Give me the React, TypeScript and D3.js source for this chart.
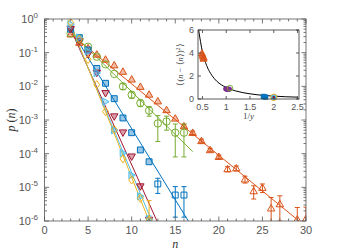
import React from "react";
import * as d3 from "d3";

// MATLAB-like palette
const orange = "#D95319";
const green = "#77AC30";
const blue = "#0072BD";
const darkRed = "#A2142F";
const cyan = "#4DBEEE";
const yellow = "#EDB120";
const purple = "#7E2F8E";

// main panel: p(n) on log scale
const orangeN = [3, 4, 5, 6, 7, 8, 9, 10, 11, 12, 13, 14, 15, 16, 17, 18, 19, 20, 21, 22, 23, 24, 25, 26, 27, 29, 30];
const orangeP = [0.355, 0.2, 0.138, 0.089, 0.063, 0.0427, 0.0275, 0.0162, 0.0098, 0.00575, 0.00363, 0.002, 0.00112, 6.6e-4, 4.2e-4, 2.4e-4, 1.29e-4, 8.1e-5, 3.5e-5, 3.7e-5, 1.74e-5, 7.8e-6, 9.8e-6, 2.4e-6, 3.2e-6, 1.12e-6, 1.17e-6];
const orangeErr = [0, 0, 0, 0, 0, 0, 0, 0, 0, 0, 0, 0, 0, 8e-5, 5e-5, 3e-5, 1.5e-5, 1e-5, 6e-6, 6e-6, 4e-6, 3.3e-6, 2.8e-6, 2.6e-6, 2.4e-6, 1.4e-6, 1.4e-6];

const greenN = [3, 4, 5, 6, 7, 8, 9, 10, 11, 12, 13, 14, 15, 16];
const greenP = [0.37, 0.25, 0.15, 0.076, 0.045, 0.0234, 0.01, 0.0056, 0.0032, 0.0019, 7.9e-4, 9e-4, 4.2e-4, 4.2e-4];
const greenErr = [0, 0, 0, 0, 0, 0, 0.002, 0.0012, 7e-4, 6e-4, 5.6e-4, 4e-4, 3.4e-4, 3.4e-4];

const blueN = [3, 4, 5, 6, 7, 8, 9, 10, 11, 12, 13, 15, 16];
const blueP = [0.5, 0.28, 0.12, 0.034, 0.0123, 0.0043, 0.00115, 4.2e-4, 1.29e-4, 5.75e-5, 1.26e-5, 5.9e-6, 5.9e-6];
const blueErr = [0, 0, 0, 0, 0, 0, 0, 0, 0, 0, 6e-6, 4.6e-6, 4.6e-6];

const redN = [3, 4, 5, 6, 7, 8, 9, 10, 11, 12];
const redP = [0.5, 0.22, 0.089, 0.025, 0.0062, 0.00126, 4.2e-4, 8.1e-5, 1.05e-5, 1.07e-6];

const cyanN = [3, 4, 5, 6, 7, 8, 9, 10, 11, 12];
const cyanP = [0.7, 0.28, 0.11, 0.025, 0.0035, 5e-4, 1.05e-4, 2.3e-5, 5.4e-6, 1.12e-6];
const cyanErr = [0, 0, 0, 0, 0, 0, 0, 0, 0, 3e-7];

const yellowN = [3, 4, 5, 6, 7, 8, 9, 10, 11, 12];
const yellowP = [0.79, 0.25, 0.063, 0.0112, 0.00178, 5.2e-4, 7e-5, 1.66e-5, 4.7e-6, 1.07e-6];
const yellowErr = [0, 0, 0, 0, 0, 0, 0, 0, 0, 3e-6];

// straight-line fits, as (n, p) end points
const orangeFit = [[3, 0.36], [29.2, 1e-6]];
const greenFit = [[3, 0.42], [17, 1.15e-4]];
const blueFit = [[3, 0.5], [16.5, 1e-6]];
const redFit = [[3, 0.5], [12.9, 1e-6]];
const cyanFit = [[3, 0.63], [12.3, 1e-6]];
const yellowFit = [[3, 0.7], [12, 1e-6]];

// inset: variance against 1/y
const curveX = [0.42, 0.5, 0.6, 0.7, 0.8, 0.9, 1.0, 1.2, 1.5, 1.8, 2.0, 2.5];
const curveY = [6.0, 4.1, 2.8, 2.05, 1.55, 1.23, 1.0, 0.7, 0.45, 0.31, 0.25, 0.16];
const insetOrangeX = [0.49, 0.5, 0.51, 0.52, 0.53];
const insetOrangeY = [4.0, 3.85, 3.7, 3.5, 3.6];
const insetPurpleX = [1.0, 1.02, 1.04, 1.06];
const insetPurpleY = [0.88, 0.85, 0.87, 0.84];
const insetGreenX = [1.08];
const insetGreenY = [0.95];
const insetBlueX = [1.78, 1.8, 1.83];
const insetBlueY = [0.22, 0.2, 0.17];
const insetEndX = [2.0];
const insetEndY = [0.15];

const axisCol = "#555";
const font = "Helvetica, Arial, 'Liberation Sans', sans-serif";

type Series = {
  n: number[];
  p: number[];
  err?: number[];
  color: string;
  shape: string;
  filledUpTo: number;
  fit: number[][];
};

const series: Series[] = [
  { n: orangeN, p: orangeP, err: orangeErr, color: orange, shape: "up", filledUpTo: 20, fit: orangeFit },
  { n: greenN, p: greenP, err: greenErr, color: green, shape: "circle", filledUpTo: 0, fit: greenFit },
  { n: blueN, p: blueP, err: blueErr, color: blue, shape: "square", filledUpTo: 12, fit: blueFit },
  { n: redN, p: redP, color: darkRed, shape: "down", filledUpTo: 11, fit: redFit },
  { n: cyanN, p: cyanP, err: cyanErr, color: cyan, shape: "right", filledUpTo: 12, fit: cyanFit },
  { n: yellowN, p: yellowP, err: yellowErr, color: yellow, shape: "diamond", filledUpTo: 0, fit: yellowFit },
];

function marker(shape: string, x: number, y: number, s: number) {
  switch (shape) {
    case "up":
      return `M${x},${y - s}L${x + s},${y + s * 0.75}L${x - s},${y + s * 0.75}Z`;
    case "down":
      return `M${x},${y + s}L${x + s},${y - s * 0.75}L${x - s},${y - s * 0.75}Z`;
    case "right":
      return `M${x + s},${y}L${x - s * 0.75},${y - s}L${x - s * 0.75},${y + s}Z`;
    case "square":
      return `M${x - s * 0.8},${y - s * 0.8}h${s * 1.6}v${s * 1.6}h${-s * 1.6}Z`;
    case "diamond":
      return `M${x},${y - s * 1.1}L${x + s * 0.8},${y}L${x},${y + s * 1.1}L${x - s * 0.8},${y}Z`;
    default:
      return `M${x - s},${y}a${s},${s} 0 1,0 ${2 * s},0a${s},${s} 0 1,0 ${-2 * s},0Z`;
  }
}

const App = () => {
  const width = 339;
  const height = 252;
  const m = { left: 44.5, right: 306, top: 19, bottom: 221 };

  const x = d3.scaleLinear().domain([0, 30]).range([m.left, m.right]);
  const y = d3.scaleLog().domain([1e-6, 1]).range([m.bottom, m.top]).clamp(true);

  const ins = { left: 198, right: 299, top: 30, bottom: 99 };
  const ix = d3.scaleLinear().domain([0.407, 2.53]).range([ins.left, ins.right]);
  const iy = d3.scaleLinear().domain([0, 6]).range([ins.bottom, ins.top]);

  const fitLine = d3
    .line<number[]>()
    .x((d) => x(d[0]))
    .y((d) => y(d[1]));

  const curve = d3
    .line<number>()
    .x((d) => ix(d))
    .y((d, i) => iy(curveY[i]))
    .curve(d3.curveMonotoneX);

  const decades = d3.range(-6, 1);
  const minorY: number[] = [];
  decades.slice(0, -1).forEach((e) => {
    for (let k = 2; k <= 9; k++) minorY.push(k * Math.pow(10, e));
  });

  const xMajor = d3.range(0, 31, 5);
  const xMinor = d3.range(0, 31, 1).filter((v) => v % 5 !== 0);

  const clipId = "mainclip";

  return (
    <svg width={width} height={height} style={{ position: "absolute", left: 0, top: 0 }} fontFamily={font}>
      <rect width={width} height={height} fill="#fff" />
      <defs>
        <clipPath id={clipId}>
          <rect x={m.left} y={m.top} width={m.right - m.left} height={m.bottom - m.top} />
        </clipPath>
      </defs>

      {/* fits and data */}
      <g clipPath={`url(#${clipId})`}>
        {series.map((s, i) => (
          <path key={"f" + i} d={fitLine(s.fit) || ""} fill="none" stroke={s.color} strokeWidth={1} />
        ))}
        {series.map((s, i) => (
          <g key={"s" + i} stroke={s.color} fill="none" strokeWidth={1}>
            {s.n.map((n, j) => {
              const e = s.err ? s.err[j] : 0;
              if (!e) return null;
              const cx = x(n);
              const hi = y(s.p[j] + e);
              const lo = s.p[j] - e > 0 ? y(s.p[j] - e) : m.bottom + 5;
              return (
                <g key={j}>
                  <line x1={cx} x2={cx} y1={hi} y2={lo} />
                  <line x1={cx - 2.5} x2={cx + 2.5} y1={hi} y2={hi} />
                  <line x1={cx - 2.5} x2={cx + 2.5} y1={lo} y2={lo} />
                </g>
              );
            })}
            {s.n.map((n, j) => (
              <path
                key={"m" + j}
                d={marker(s.shape, x(n), y(s.p[j]), 3.7)}
                fill={n <= s.filledUpTo ? s.color : "#fff"}
                fillOpacity={n <= s.filledUpTo ? 0.4 : 0}
              />
            ))}
          </g>
        ))}
      </g>

      {/* main axes box and ticks */}
      <g stroke={axisCol} strokeWidth={0.8} fill="none">
        <rect x={m.left} y={m.top} width={m.right - m.left} height={m.bottom - m.top} />
        {xMajor.map((v) => (
          <g key={"xM" + v}>
            <line x1={x(v)} x2={x(v)} y1={m.bottom} y2={m.bottom - 4.5} />
            <line x1={x(v)} x2={x(v)} y1={m.top} y2={m.top + 4.5} />
          </g>
        ))}
        {xMinor.map((v) => (
          <g key={"xm" + v}>
            <line x1={x(v)} x2={x(v)} y1={m.bottom} y2={m.bottom - 2.5} />
            <line x1={x(v)} x2={x(v)} y1={m.top} y2={m.top + 2.5} />
          </g>
        ))}
        {decades.map((e) => (
          <g key={"yM" + e}>
            <line x1={m.left} x2={m.left + 4.5} y1={y(Math.pow(10, e))} y2={y(Math.pow(10, e))} />
            <line x1={m.right} x2={m.right - 4.5} y1={y(Math.pow(10, e))} y2={y(Math.pow(10, e))} />
          </g>
        ))}
        {minorY.map((v, i) => (
          <g key={"ym" + i}>
            <line x1={m.left} x2={m.left + 2.5} y1={y(v)} y2={y(v)} />
            <line x1={m.right} x2={m.right - 2.5} y1={y(v)} y2={y(v)} />
          </g>
        ))}
      </g>

      <g fill={axisCol} fontSize={11}>
        {xMajor.map((v) => (
          <text key={"xl" + v} x={x(v)} y={234} textAnchor="middle">
            {v}
          </text>
        ))}
        {decades.map((e) => (
          <text key={"yl" + e} x={38} y={y(Math.pow(10, e)) + 4} textAnchor="end">
            10<tspan dy={-5} fontSize={8}>{e}</tspan>
          </text>
        ))}
      </g>
      <text x={(m.left + m.right) / 2} y={248} textAnchor="middle" fontSize={12} fontStyle="italic" fontFamily="'Liberation Serif', serif" fill="#333">
        n
      </text>
      <text transform={`translate(15,${(m.top + m.bottom) / 2}) rotate(-90)`} textAnchor="middle" fontSize={12} fontFamily="'Liberation Serif', serif" fill="#333">
        <tspan fontStyle="italic">p</tspan> (<tspan fontStyle="italic">n</tspan>)
      </text>

      {/* inset */}
      <rect x={ins.left} y={ins.top} width={ins.right - ins.left} height={ins.bottom - ins.top} fill="#fff" />
      <path d={curve(curveX) || ""} fill="none" stroke="#000" strokeWidth={1} />
      <g stroke={orange} fill={orange} fillOpacity={0.6} strokeWidth={0.9}>
        {insetOrangeX.map((v, i) => (
          <path key={i} d={marker("up", ix(v), iy(insetOrangeY[i]), 3.4)} />
        ))}
      </g>
      <g fill={purple} stroke={purple} strokeWidth={0.6}>
        {insetPurpleX.map((v, i) => (
          <ellipse key={i} cx={ix(v)} cy={iy(insetPurpleY[i])} rx={2.8} ry={2.3} />
        ))}
      </g>
      <g fill="none" stroke={green} strokeWidth={0.9}>
        {insetGreenX.map((v, i) => (
          <circle key={i} cx={ix(v)} cy={iy(insetGreenY[i])} r={2.8} />
        ))}
      </g>
      <g fill={blue} stroke={blue} strokeWidth={0.6}>
        {insetBlueX.map((v, i) => (
          <path key={i} d={marker("square", ix(v), iy(insetBlueY[i]), 2.8)} />
        ))}
      </g>
      {insetEndX.map((v, i) => (
        <g key={i}>
          <circle cx={ix(v)} cy={iy(insetEndY[i])} r={3.2} fill={cyan} stroke={yellow} strokeWidth={1} />
          <circle cx={ix(v)} cy={iy(insetEndY[i])} r={1.3} fill={darkRed} />
        </g>
      ))}
      <g stroke="#333" strokeWidth={0.8} fill="none">
        <rect x={ins.left} y={ins.top} width={ins.right - ins.left} height={ins.bottom - ins.top} />
        {[0.5, 1, 1.5, 2, 2.5].map((v) => (
          <g key={"ixM" + v}>
            <line x1={ix(v)} x2={ix(v)} y1={ins.bottom} y2={ins.bottom - 3} />
            <line x1={ix(v)} x2={ix(v)} y1={ins.top} y2={ins.top + 3} />
          </g>
        ))}
        {[0, 2, 4, 6].map((v) => (
          <g key={"iyM" + v}>
            <line x1={ins.left} x2={ins.left + 3} y1={iy(v)} y2={iy(v)} />
            <line x1={ins.right} x2={ins.right - 3} y1={iy(v)} y2={iy(v)} />
          </g>
        ))}
      </g>
      <g fill={axisCol} fontSize={9}>
        {[0.5, 1, 1.5, 2, 2.5].map((v) => (
          <text key={"ixl" + v} x={ix(v)} y={110} textAnchor="middle">
            {v}
          </text>
        ))}
        {[0, 2, 4, 6].map((v) => (
          <text key={"iyl" + v} x={194} y={iy(v) + 3} textAnchor="end">
            {v}
          </text>
        ))}
      </g>
      <text x={(ins.left + ins.right) / 2} y={119} textAnchor="middle" fontSize={9} fontFamily="'Liberation Serif', serif" fill="#444">
        1/<tspan fontStyle="italic">y</tspan>
      </text>
      <text transform={`translate(183,${(ins.top + ins.bottom) / 2}) rotate(-90)`} textAnchor="middle" fontSize={8.5} fontFamily="'Liberation Serif', serif" fill="#444">
        ⟨(<tspan fontStyle="italic">n</tspan> − ⟨<tspan fontStyle="italic">n</tspan>⟩)<tspan dy={-3} fontSize={6}>2</tspan><tspan dy={3}>⟩</tspan>
      </text>
    </svg>
  );
};

export default App;
